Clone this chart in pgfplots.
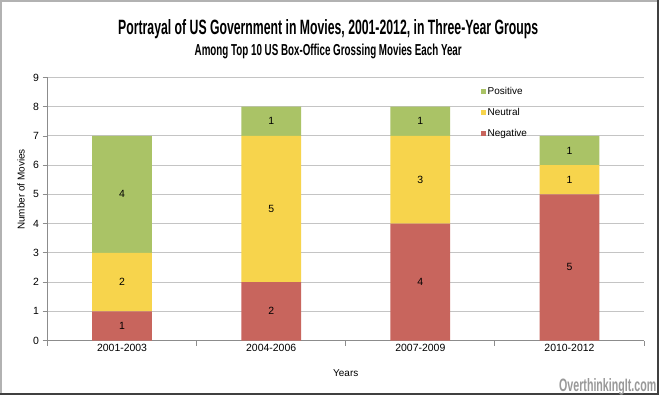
\documentclass[border=0pt]{standalone}
\usepackage{fontspec}
\setmainfont{Liberation Sans}
\usepackage{graphicx}
\usepackage{pgfplots}
\usepackage{pgfplotstable}
\pgfplotsset{compat=1.18}
\definecolor{pos}{HTML}{AAC366}
\definecolor{neu}{HTML}{F7D44C}
\definecolor{neg}{HTML}{C8655D}
\definecolor{gridc}{HTML}{C4C4C4}
\definecolor{axc}{HTML}{8C8C8C}
\pgfplotstableread{
x Neg Neu Pos
0 1 2 4
1 2 5 1
2 4 3 1
3 5 1 1
}\data
\begin{document}
\begin{tikzpicture}
\begin{scope}[x=1bp,y=1bp,shift={(-47.5bp,-54.5bp)}]
\path[use as bounding box] (0,0) rectangle (659,395);
\fill[white] (0,0) rectangle (659,395);
\draw[line width=2bp, color=black!30] (1,0) -- (1,394) -- (658,394);
\draw[line width=2.5bp, color=black!75] (657.75,395) -- (657.75,1.25) -- (0,1.25);
\node[anchor=base west, inner sep=0pt] at (118,361) {\resizebox{420bp}{15bp}{\bfseries Portrayal of US Government in Movies, 2001-2012, in Three-Year Groups}};
\node[anchor=base west, inner sep=0pt] at (194.5,340) {\resizebox{267bp}{11.5bp}{\bfseries Among Top 10 US Box-Office Grossing Movies Each Year}};
\node[anchor=base west, inner sep=0pt, text=black!40] at (559,4) {\resizebox{97bp}{13bp}{\bfseries OverthinkingIt.com}};
\end{scope}
\begin{axis}[
  anchor=south west,
  scale only axis, width=596.5bp, height=263bp,
  ybar stacked, bar width=0.4,
  xmin=-0.5, xmax=3.5, ymin=0, ymax=9,
  ytick={0,1,...,9},
  xtick={-0.5,0.5,1.5,2.5,3.5}, xticklabels={},
  extra x ticks={0,1,2,3},
  extra x tick labels={2001-2003,2004-2006,2007-2009,2010-2012},
  extra x tick style={major tick length=0pt, grid=none},
  ymajorgrids, grid style={gridc, line width=1bp},
  axis x line*=bottom, axis y line*=left,
  axis line style={axc, line width=0.8bp, -},
  tick style={axc, line width=0.8bp},
  tick align=outside, major tick length=5bp,
  ticklabel style={font=\fontsize{10.5}{12}\selectfont},
  /pgf/number format/assume math mode=true,
  xlabel={Years}, ylabel={Number of Movies},
  label style={font=\fontsize{10.5}{12}\selectfont},
  every axis x label/.style={at={(axis description cs:0.5,0)}, anchor=base, yshift=-35.5bp},
  every axis y label/.style={at={(axis description cs:-0.0444,0.574)}, anchor=center, rotate=90},
  nodes near coords,
  point meta=explicit,
  every node near coord/.append style={anchor=center, font=\fontsize{10.5}{12}\selectfont, text=black},
  legend style={at={(axis description cs:0.7267,0.968)}, anchor=north west, draw=none, fill=none,
    font=\fontsize{10}{12}\selectfont, row sep=9bp, inner sep=0pt,
    nodes={inner sep=1.5bp}},
  legend cell align=left,
  reverse legend,
  legend image code/.code={\fill[#1] (0bp,-2.5bp) rectangle (5bp,2.5bp);},
]
\addplot[fill=neg, draw=none] table[x=x,y=Neg,meta=Neg]{\data};
\addlegendentry{Negative}
\addplot[fill=neu, draw=none] table[x=x,y=Neu,meta=Neu]{\data};
\addlegendentry{Neutral}
\addplot[fill=pos, draw=none] table[x=x,y=Pos,meta=Pos]{\data};
\addlegendentry{Positive}
\end{axis}
\end{tikzpicture}
\end{document}
